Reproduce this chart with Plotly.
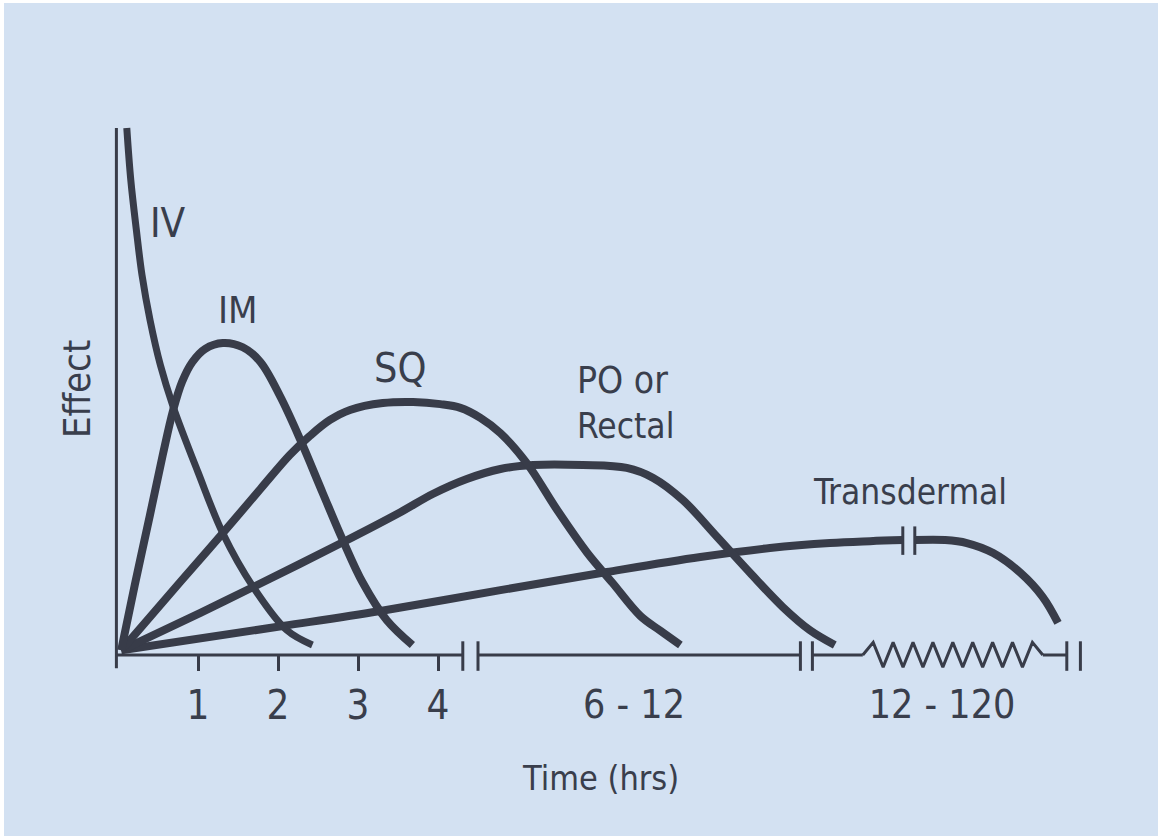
import plotly.graph_objects as go

# ---------------- data (time in display units, effect in % of IV peak) ----------------
iv_t = [0.11, 0.16, 0.23, 0.30, 0.40, 0.53, 0.69, 1.00, 1.31, 1.69, 2.11, 2.43]
iv_e = [100, 90.1, 80.6, 72.1, 63.6, 55.0, 47.1, 34.7, 23.1, 12.9, 4.7, 1.9]

im_t = [0.04, 0.21, 0.40, 0.56, 0.69, 0.80, 0.93, 1.09, 1.31, 1.56, 1.78, 2.03, 2.28, 2.56, 2.81, 3.06, 3.36, 3.68]
im_e = [0.9, 13.3, 26.6, 38.0, 46.5, 51.8, 55.6, 58.1, 59.2, 58.4, 55.6, 49.0, 40.8, 30.7, 21.8, 13.7, 6.6, 1.9]

sq_t = [0.04, 0.78, 1.28, 1.78, 2.15, 2.40, 2.65, 2.90, 3.31, 3.69, 4.03, 4.28, 4.53, 4.78, 5.11,
        5.49, 5.86, 6.18, 6.53, 6.78, 7.03]
sq_e = [0.9, 13.9, 22.6, 31.5, 38.0, 41.6, 44.6, 46.5, 47.8, 48.0, 47.6, 46.9, 45.0, 42.1, 36.4,
        27.5, 19.5, 13.7, 7.4, 4.6, 1.9]

po_t = [0.04, 1.03, 1.69, 2.81, 3.53, 3.94, 4.36, 4.78, 5.19, 5.81, 6.36, 6.69, 7.06, 7.49, 7.90, 8.31, 8.65, 8.96]
po_e = [0.9, 8.0, 12.9, 21.4, 27.1, 30.6, 33.4, 35.3, 36.05, 36.05, 35.5, 33.6, 29.4, 22.4, 15.6, 9.1, 4.7, 1.9]

td_t_a = [0.04, 2.06, 3.28, 4.78, 6.11, 7.28, 8.15, 8.90, 9.40, 9.81]
td_e_a = [0.9, 5.5, 8.35, 12.3, 15.75, 18.6, 20.3, 21.25, 21.6, 21.8]
td_t_b = [9.96, 10.34, 10.61, 10.94, 11.28, 11.56, 11.75]
td_e_b = [21.8, 21.8, 21.25, 19.35, 15.6, 11.0, 6.1]

tick_vals = [1, 2, 3, 4]
tick_text = ["1", "2", "3", "4"]
range_vals = [6.45, 10.3]
range_text = ["6 - 12", "12 - 120"]

# axis break positions (display units)
axis_segments = [(-0.02, 4.31), (4.50, 8.53), (8.68, 9.31), (11.56, 11.86)]
axis_bars = [4.31, 4.50, 8.53, 8.68, 11.86, 12.03]
zig_start, zig_end, zig_n = 9.31, 11.56, 9
td_break = [9.81, 9.96]

# ---------------- styling ----------------
BG = "#d3e1f2"
INK = "#383c49"
TXT = "#393e4c"
FONT = "DejaVu Sans Condensed, DejaVu Sans, sans-serif"

fig = go.Figure()

# x axis line with breaks
ax_x, ax_y = [], []
for a, b in axis_segments:
    ax_x += [a, b, None]
    ax_y += [0, 0, None]
# zigzag axis break
zx = [zig_start]
zy = [0]
step = (zig_end - zig_start - 0.13 - 0.13) / (2 * zig_n - 2)
x = zig_start + 0.13
for k in range(2 * zig_n - 1):
    zx.append(x)
    zy.append(2.4 if k % 2 == 0 else -2.3)
    x += step
zx.append(zig_end)
zy.append(0)
ax_x += zx + [None]
ax_y += zy + [None]
# break bars
for b in axis_bars:
    ax_x += [b, b, None]
    ax_y += [-3.0, 2.6, None]
# y axis line
ax_x += [-0.02, -0.02]
ax_y += [-2.5, 100]

fig.add_trace(go.Scatter(x=ax_x, y=ax_y, mode="lines",
                         line=dict(color=INK, width=3), hoverinfo="skip", showlegend=False))

curve = dict(color=INK, width=8, shape="spline", smoothing=1.0)
fig.add_trace(go.Scatter(x=td_t_a, y=td_e_a, mode="lines", line=curve, name="Transdermal", showlegend=False))
fig.add_trace(go.Scatter(x=td_t_b, y=td_e_b, mode="lines", line=curve, name="Transdermal", showlegend=False))
fig.add_trace(go.Scatter(x=po_t, y=po_e, mode="lines", line=curve, name="PO or Rectal", showlegend=False))
fig.add_trace(go.Scatter(x=sq_t, y=sq_e, mode="lines", line=curve, name="SQ", showlegend=False))
fig.add_trace(go.Scatter(x=im_t, y=im_e, mode="lines", line=curve, name="IM", showlegend=False))
fig.add_trace(go.Scatter(x=iv_t, y=iv_e, mode="lines",
                         line=dict(color=INK, width=7, shape="spline", smoothing=1.0),
                         name="IV", showlegend=False))

# transdermal break bars
bx, by = [], []
for b in td_break:
    bx += [b, b, None]
    by += [19.0, 24.4, None]
fig.add_trace(go.Scatter(x=bx, y=by, mode="lines", line=dict(color=INK, width=3),
                         hoverinfo="skip", showlegend=False))


def lab(text, x, y, size=38, angle=0, xanchor="center"):
    fig.add_annotation(x=x, y=y, xref="x", yref="y", text=text, showarrow=False,
                       textangle=angle, xanchor=xanchor, yanchor="middle",
                       font=dict(family=FONT, size=size, color=TXT))


lab("IV", 0.625, 82.0, size=40)
lab("IM", 1.50, 65.5, size=38)
lab("SQ", 3.525, 54.5, size=41)
lab("PO or", 5.71, 52.0, size=37, xanchor="left")
lab("Rectal", 5.71, 43.5, size=35, xanchor="left")
lab("Transdermal", 9.90, 30.9, size=35)
lab("Effect", -0.51, 50.5, size=38, angle=-90)
lab("Time (hrs)", 6.03, -23.3, size=34)

# page offset: thin white strip at top (3px) and left (4px)
W, H = 1154, 833
OX, OY = 114, 652          # origin in figure pixels
SX, SY = 80, 5.27          # px per unit
X_RANGE = [-OX / SX, (W - OX) / SX]
Y_RANGE = [(OY - H) / SY, OY / SY]
POS = (H - OY) / H

fig.update_layout(
    width=W, height=H, autosize=False,
    margin=dict(l=0, r=0, t=0, b=0, pad=0),
    paper_bgcolor=BG, plot_bgcolor=BG,
    showlegend=False,
    xaxis=dict(range=X_RANGE, anchor="free", position=POS, showgrid=False, zeroline=False,
               showline=False, tickmode="array", tickvals=tick_vals, ticktext=tick_text,
               ticks="outside", ticklen=15, tickwidth=3, tickcolor=INK,
               tickfont=dict(family=FONT, size=40, color=TXT), fixedrange=True),
    xaxis2=dict(range=X_RANGE, overlaying="x", anchor="free", position=POS, side="bottom",
                showgrid=False, zeroline=False, showline=False, tickmode="array",
                tickvals=range_vals, ticktext=range_text, ticks="outside", ticklen=15,
                tickcolor="rgba(0,0,0,0)", tickfont=dict(family=FONT, size=39, color=TXT),
                fixedrange=True),
    yaxis=dict(range=Y_RANGE, domain=[0, 1], visible=False, fixedrange=True),
)
fig.add_trace(go.Scatter(x=[None], y=[None], xaxis="x2", showlegend=False, hoverinfo="skip"))

fig.write_html(
    "out.html",
    post_script="document.body.style.margin='3px 0 0 4px';"
                "document.body.style.background='#ffffff';"
                "document.body.style.overflow='hidden';",
)
